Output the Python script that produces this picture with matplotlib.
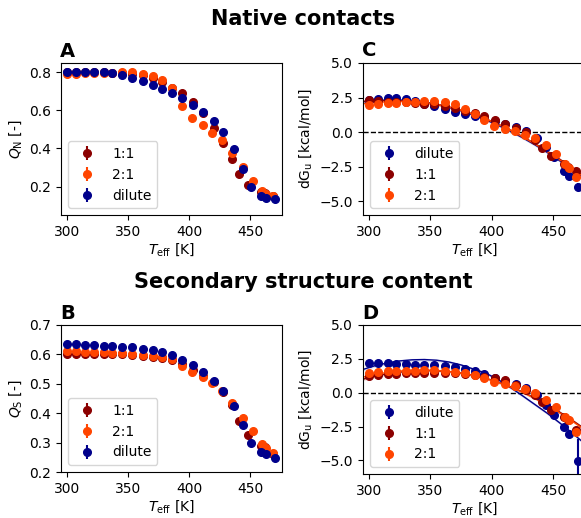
"""Native contacts / secondary structure: Q vs T_eff and unfolding free energy."""

import matplotlib

matplotlib.use("Agg")
import matplotlib.pyplot as plt

# --- data ------------------------------------------------------------------
T_DIL = [300, 307, 315, 322, 330, 337, 345, 353, 362, 370, 378, 386, 394, 403,
         411, 420, 428, 437, 444, 451, 459, 463, 470]
T_11 = [300, 307, 315, 322, 330, 337, 345, 353, 362, 370, 378, 386, 394, 403,
        411, 420, 428, 435, 441, 448, 459, 462, 469]
T_21 = [300, 307, 315, 322, 330, 337, 345, 353, 362, 370, 378, 386, 394, 402,
        411, 419, 427, 435, 444, 452, 460, 463, 469]

QN_DIL = [0.805, 0.805, 0.805, 0.803, 0.800, 0.795, 0.786, 0.771, 0.753, 0.734,
          0.713, 0.690, 0.664, 0.630, 0.594, 0.546, 0.489, 0.398, 0.293, 0.200,
          0.149, 0.142, 0.132]
QN_11 = [0.800, 0.800, 0.800, 0.800, 0.800, 0.795, 0.795, 0.790, 0.785, 0.770,
         0.750, 0.720, 0.690, 0.645, 0.585, 0.510, 0.430, 0.345, 0.265, 0.210,
         0.170, 0.165, 0.150]
QN_21 = [0.793, 0.793, 0.795, 0.795, 0.797, 0.797, 0.800, 0.800, 0.790, 0.780,
         0.758, 0.720, 0.624, 0.561, 0.523, 0.484, 0.444, 0.377, 0.303, 0.228,
         0.175, 0.163, 0.149]

QS_DIL = [0.634, 0.634, 0.633, 0.631, 0.630, 0.629, 0.626, 0.624, 0.619, 0.615,
          0.607, 0.597, 0.581, 0.563, 0.540, 0.511, 0.476, 0.424, 0.361, 0.300,
          0.267, 0.260, 0.247]
QS_11 = [0.600, 0.600, 0.600, 0.601, 0.602, 0.602, 0.600, 0.598, 0.596, 0.592,
         0.587, 0.580, 0.568, 0.548, 0.527, 0.505, 0.472, 0.428, 0.373, 0.326,
         0.290, 0.285, 0.262]
QS_21 = [0.611, 0.611, 0.609, 0.608, 0.607, 0.606, 0.605, 0.603, 0.599, 0.594,
         0.590, 0.583, 0.560, 0.540, 0.523, 0.503, 0.475, 0.436, 0.385, 0.339,
         0.295, 0.283, 0.264]

DGN_DIL = [2.30, 2.40, 2.47, 2.45, 2.38, 2.22, 2.05, 1.87, 1.65, 1.45, 1.30, 1.15,
           1.00, 0.78, 0.55, 0.37, 0.10, -0.40, -1.05, -1.80, -2.85, -3.20, -3.95]
DGN_11 = [2.32, 2.25, 2.20, 2.20, 2.15, 2.10, 2.05, 2.00, 1.90, 1.75, 1.55, 1.35,
          1.15, 0.90, 0.62, 0.32, 0.00, -0.55, -1.15, -1.75, -2.30, -2.55, -2.85]
DGN_21 = [1.95, 2.03, 2.10, 2.12, 2.15, 2.20, 2.22, 2.22, 2.20, 2.00, 1.65, 1.30,
          0.85, 0.45, 0.22, 0.05, -0.20, -0.40, -0.95, -1.60, -2.30, -2.60, -3.25]
DGN_DIL_ERR = [0.08] * 20 + [0.15, 0.15, 0.30]

DGS_DIL = [2.22, 2.22, 2.19, 2.15, 2.10, 2.05, 2.05, 2.02, 1.95, 1.88, 1.74, 1.59,
           1.35, 1.06, 0.89, 0.65, 0.34, -0.19, -0.91, -1.63, -2.55, -3.03, -5.05]
DGS_11 = [1.25, 1.30, 1.35, 1.40, 1.42, 1.42, 1.42, 1.42, 1.42, 1.42, 1.37, 1.30,
          1.18, 1.10, 0.92, 0.60, 0.20, -0.20, -0.70, -1.25, -1.80, -2.05, -2.75]
DGS_21 = [1.47, 1.54, 1.59, 1.61, 1.61, 1.61, 1.66, 1.66, 1.61, 1.54, 1.42, 1.30,
          1.06, 0.82, 0.65, 0.46, 0.28, -0.05, -0.53, -1.05, -1.77, -2.00, -2.90]
DGS_DIL_ERR = [0.08] * 20 + [0.15, 0.15, 1.65]

# fitted stability curves
T_FIT = [295, 305, 315, 325, 335, 345, 355, 365, 375, 385, 395, 405, 415, 425,
         435, 445, 455, 465, 475]
FITN_DIL = [2.20, 2.28, 2.32, 2.32, 2.27, 2.17, 2.01, 1.80, 1.54, 1.24, 0.89,
            0.50, 0.07, -0.40, -0.91, -1.46, -2.05, -2.67, -3.33]
FITN_11 = [2.22, 2.27, 2.29, 2.28, 2.23, 2.14, 2.00, 1.81, 1.57, 1.29, 0.96,
           0.58, 0.15, -0.32, -0.83, -1.37, -1.94, -2.54, -3.15]
FITN_21 = [2.05, 2.14, 2.20, 2.22, 2.20, 2.13, 2.00, 1.82, 1.58, 1.30, 0.96,
           0.57, 0.13, -0.34, -0.86, -1.41, -1.99, -2.60, -3.24]
FITS_DIL = [1.72, 2.00, 2.20, 2.35, 2.43, 2.45, 2.40, 2.27, 2.05, 1.75, 1.45,
            0.98, 0.40, -0.22, -0.86, -1.50, -2.20, -2.93, -3.70]
FITS_11 = [1.00, 1.22, 1.40, 1.52, 1.60, 1.63, 1.62, 1.56, 1.45, 1.29, 1.07,
           0.79, 0.45, 0.06, -0.38, -0.87, -1.41, -1.99, -2.62]
FITS_21 = [1.15, 1.35, 1.50, 1.60, 1.67, 1.68, 1.65, 1.57, 1.45, 1.28, 1.05,
           0.77, 0.43, 0.03, -0.42, -0.92, -1.47, -2.05, -2.70]

C_DIL = "darkblue"
C_11 = "darkred"
C_21 = "orangered"

W, H = 581, 518


def box(x0, y0, x1, y1):
    """Pixel box (top-left origin) -> figure fraction rect."""
    return [x0 / W, 1 - y1 / H, (x1 - x0) / W, (y1 - y0) / H]


def style_x(ax):
    ax.set_xlim(295, 476)
    ax.set_xticks([300, 350, 400, 450])
    ax.set_xlabel(r"$T_\mathrm{eff}$ [K]", labelpad=2)


def q_panel(ax, series, ylabel):
    for t, y, c, lab in series:
        ax.errorbar(t, y, yerr=0.005, fmt="o", ms=5.5, color=c, label=lab)
    style_x(ax)
    ax.set_ylabel(ylabel)
    ax.legend(loc="lower left")


def dg_panel(ax, series, fits):
    for y, c in fits:
        lo = [v - 0.1 for v in y]
        hi = [v + 0.1 for v in y]
        ax.fill_between(T_FIT, lo, hi, color=c, alpha=0.15, lw=0, zorder=1)
        ax.plot(T_FIT, y, color=c, lw=1, zorder=1.5)
    ax.axhline(0, color="k", ls="--", lw=1, zorder=1.2)
    for t, y, err, c, lab in series:
        ax.errorbar(t, y, yerr=err, fmt="o", ms=5.5, color=c, label=lab, zorder=3)
    style_x(ax)
    ax.set_ylim(-6, 5)
    ax.set_yticks([-5, -2.5, 0, 2.5, 5])
    ax.set_ylabel(r"dG$_\mathrm{u}$ [kcal/mol]")
    ax.legend(loc="lower left")


def main():
    plt.rcParams["font.size"] = 10
    fig = plt.figure(figsize=(W / 100, H / 100), dpi=100)

    ax_a = fig.add_axes(box(61, 63, 282, 215))
    ax_c = fig.add_axes(box(363, 63, 585, 215))
    ax_b = fig.add_axes(box(61, 325, 282, 472))
    ax_d = fig.add_axes(box(363, 325, 585, 474))

    q_panel(ax_a, [(T_11, QN_11, C_11, "1:1"), (T_21, QN_21, C_21, "2:1"),
                   (T_DIL, QN_DIL, C_DIL, "dilute")], r"$Q_\mathrm{N}$ [-]")
    ax_a.set_ylim(0.05, 0.85)
    ax_a.set_yticks([0.2, 0.4, 0.6, 0.8])

    q_panel(ax_b, [(T_11, QS_11, C_11, "1:1"), (T_21, QS_21, C_21, "2:1"),
                   (T_DIL, QS_DIL, C_DIL, "dilute")], r"$Q_\mathrm{S}$ [-]")
    ax_b.set_ylim(0.2, 0.7)

    dg_panel(ax_c,
             [(T_DIL, DGN_DIL, DGN_DIL_ERR, C_DIL, "dilute"),
              (T_11, DGN_11, 0.08, C_11, "1:1"),
              (T_21, DGN_21, 0.08, C_21, "2:1")],
             [(FITN_DIL, C_DIL), (FITN_11, C_11), (FITN_21, C_21)])
    dg_panel(ax_d,
             [(T_DIL, DGS_DIL, DGS_DIL_ERR, C_DIL, "dilute"),
              (T_11, DGS_11, 0.08, C_11, "1:1"),
              (T_21, DGS_21, 0.08, C_21, "2:1")],
             [(FITS_DIL, C_DIL), (FITS_11, C_11), (FITS_21, C_21)])

    fig.text(303 / W, 1 - 25 / H, "Native contacts", ha="center", va="baseline",
             fontsize=15, fontweight="bold")
    fig.text(303 / W, 1 - 288 / H, "Secondary structure content", ha="center",
             va="baseline", fontsize=15, fontweight="bold")
    for lab, x, y in [("A", 60, 57), ("C", 362, 56), ("B", 60, 319), ("D", 362, 319)]:
        fig.text(x / W, 1 - y / H, lab, ha="left", va="baseline",
                 fontsize=14, fontweight="bold")

    fig.savefig("out.png", dpi=100)
    plt.close(fig)


if __name__ == "__main__":
    main()
